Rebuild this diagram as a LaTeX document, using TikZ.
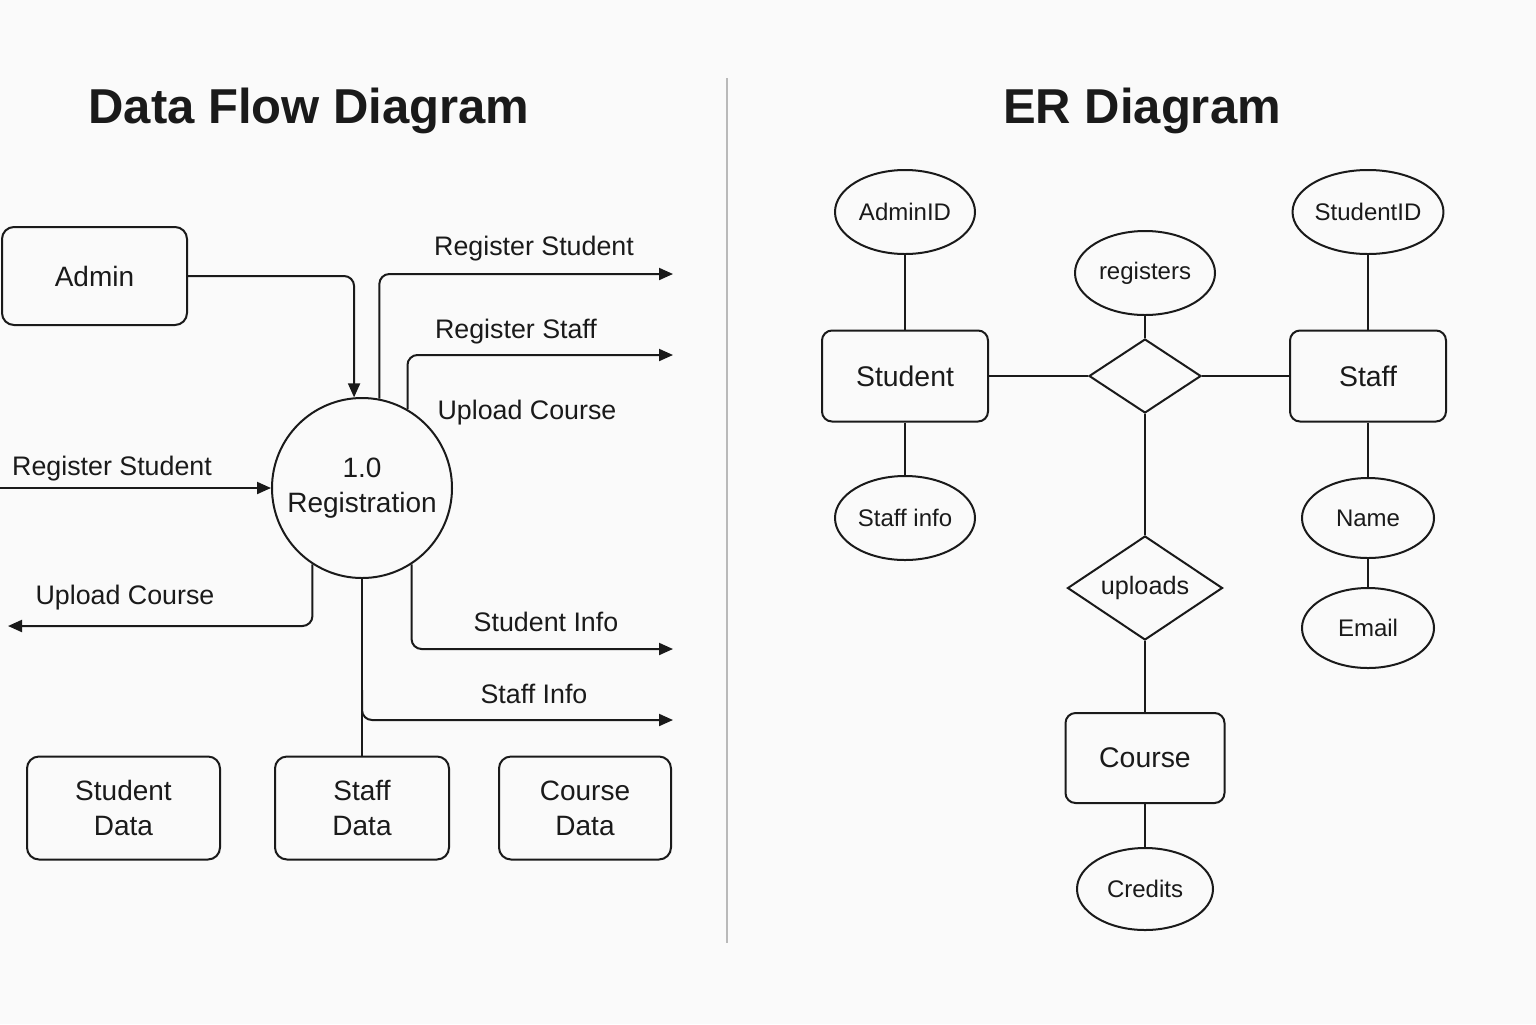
\documentclass[tikz,border=0pt]{standalone}
\usepackage{fontspec}
\setmainfont{Liberation Sans}
\usetikzlibrary{arrows.meta,shapes.geometric}
\definecolor{bgc}{HTML}{FAFAFA}
\definecolor{ink}{HTML}{1A1A1A}
\begin{document}
\begin{tikzpicture}[x=0.5pt,y=-0.5pt,
  title/.style={font=\fontsize{24.5}{28}\bfseries\selectfont, text=ink, inner sep=0, anchor=base},
  box/.style={draw=ink, line width=1pt, rounded corners=6pt, align=center, inner sep=0,
    font=\fontsize{14}{17.5}\selectfont, text=ink},
  flow/.style={draw=ink, line width=1pt, rounded corners=5pt, -{Triangle[length=7pt,width=6pt]}},
  link/.style={draw=ink, line width=1pt},
  lbl/.style={font=\fontsize{13.4}{16}\selectfont, text=ink, inner sep=0, anchor=base},
  attr/.style={ellipse, draw=ink, line width=1pt, inner sep=0, minimum width=70pt, minimum height=42pt,
    font=\fontsize{12}{14}\selectfont, text=ink},
  ent/.style={draw=ink, line width=1pt, rounded corners=5pt, inner sep=0, minimum width=83pt,
    minimum height=45.5pt, font=\fontsize{14.2}{17}\selectfont, text=ink},
  rel/.style={diamond, draw=ink, line width=1pt, inner sep=0, aspect=1.5,
    font=\fontsize{12.6}{15}\selectfont, text=ink}
]
\fill[bgc] (0,0) rectangle (1536,1024);
\useasboundingbox (0,0) rectangle (1536,1024);

% titles and divider
\node[title] (t1) at (309,123) {Data Flow Diagram};
\node[title] (t2) at (1142,123) {ER Diagram};
\coordinate (d1) at (727,78);
\coordinate (d2) at (727,943);
\draw[gray!55, line width=0.6pt] (d1) -- (d2);

% ---------------- DFD ----------------
\node[box, minimum width=92.5pt, minimum height=49pt] (admin) at (94.5,276) {Admin};
\node[circle, draw=ink, line width=1pt, minimum size=90pt, inner sep=0, align=center,
  font=\fontsize{14}{17.5}\selectfont, text=ink] (reg) at (362,488) {1.0\\Registration};

\node[box, minimum width=96.5pt, minimum height=51.5pt] (studd) at (123.5,808) {Student\\Data};
\node[box, minimum width=87pt, minimum height=51.5pt] (staffd) at (362,808) {Staff\\Data};
\node[box, minimum width=86pt, minimum height=51.5pt] (coursed) at (585,808) {Course\\Data};

\coordinate (e1) at (673,274);
\coordinate (e2) at (673,355);
\coordinate (s1) at (0,488);
\coordinate (e3) at (8,626);
\coordinate (e4) at (673,649);
\coordinate (br) at (362,690);
\coordinate (e5) at (673,720);

\draw[flow] (admin.east) -| (reg.95);
\draw[flow] (reg.79) |- (e1);
\draw[flow] (reg.60) |- (e2);
\draw[flow] (s1) -- (reg.west);
\draw[flow] (reg.-123.7) |- (e3);
\draw[flow] (reg.-57.8) |- (e4);
\draw[link] (reg.south) -- (staffd.north);
\draw[flow] (br) |- (e5);

\node[lbl] (l1) at (534,255) {Register Student};
\node[lbl] (l2) at (516,338) {Register Staff};
\node[lbl] (l3) at (527,419) {Upload Course};
\node[lbl] (l4) at (112,475) {Register Student};
\node[lbl] (l5) at (125,604) {Upload Course};
\node[lbl] (l6) at (546,631) {Student Info};
\node[lbl] (l7) at (534,703) {Staff Info};

% ---------------- ER ----------------
\node[attr] (adminid) at (905,212) {AdminID};
\node[ent] (student) at (905,376) {Student};
\node[attr] (staffinfo) at (905,518) {Staff info};
\node[attr] (registers) at (1145,273) {registers};
\node[rel, minimum width=56pt, minimum height=37pt] (regrel) at (1145,376) {};
\node[ent, minimum width=78pt] (staff) at (1368,376) {Staff};
\node[attr] (studentid) at (1368,212) {StudentID};
\node[attr, minimum width=66pt, minimum height=40pt] (name) at (1368,518) {Name};
\node[attr, minimum width=66pt, minimum height=40pt] (email) at (1368,628) {Email};
\node[rel, minimum width=77.5pt, minimum height=52pt] (uploads) at (1145,588) {uploads};
\node[ent, minimum width=79.5pt, minimum height=45pt] (course) at (1145,758) {Course};
\node[attr, minimum width=68pt, minimum height=41pt] (credits) at (1145,889) {Credits};

\draw[link] (adminid) -- (student);
\draw[link] (student) -- (staffinfo);
\draw[link] (student) -- (regrel);
\draw[link] (registers) -- (regrel);
\draw[link] (regrel) -- (staff);
\draw[link] (studentid) -- (staff);
\draw[link] (staff) -- (name);
\draw[link] (name) -- (email);
\draw[link] (regrel) -- (uploads);
\draw[link] (uploads) -- (course);
\draw[link] (course) -- (credits);
\end{tikzpicture}
\end{document}
